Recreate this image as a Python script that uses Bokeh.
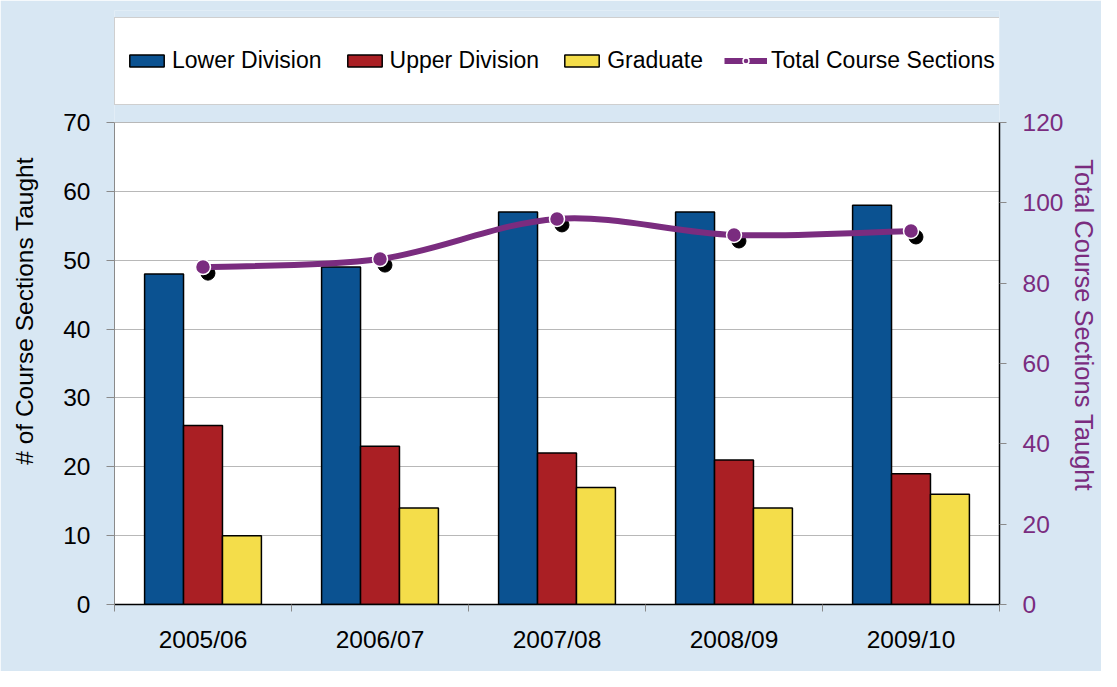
from bokeh.plotting import figure
from bokeh.models import (ColumnDataSource, Range1d, LinearAxis, FixedTicker,
                          Legend, LegendItem, BoxAnnotation)
from bokeh.transform import dodge
from bokeh.embed import file_html
from bokeh.resources import INLINE

# ---------------- data ----------------
years = ["2005/06", "2006/07", "2007/08", "2008/09", "2009/10"]
lower_division = [48, 49, 57, 57, 58]
upper_division = [26, 23, 22, 21, 19]
graduate = [10, 14, 17, 14, 16]
total_sections = [84, 86, 96, 92, 93]
left_ticks = [0, 10, 20, 30, 40, 50, 60, 70]
right_ticks = [0, 20, 40, 60, 80, 100, 120]
left_max = 70
right_max = 120

FONT = "Liberation Sans"
BLUE = "#0B5291"
RED = "#AA1F24"
YELLOW = "#F4DD4A"
PURPLE = "#7A2C7F"
BG = "#D8E7F3"

pos = list(range(len(years)))

# layout (pixels): frame spans from FRAME_TOP to FRAME_BOTTOM, plot area starts at PLOT_TOP
FRAME_TOP, PLOT_TOP, FRAME_BOTTOM = 10, 122, 604
ext = (FRAME_BOTTOM - FRAME_TOP) / (FRAME_BOTTOM - PLOT_TOP)

p = figure(width=1101, height=671, output_backend="svg", toolbar_location=None,
           x_range=Range1d(-0.5, len(years) - 0.5), y_range=Range1d(0, left_max * ext),
           x_axis_location=None, y_axis_location=None,
           min_border_left=114, min_border_right=92, min_border_top=FRAME_TOP,
           min_border_bottom=671 - FRAME_BOTTOM)
p.extra_y_ranges = {"right": Range1d(0, right_max * ext)}
p.border_fill_color = BG
p.background_fill_color = BG
p.outline_line_color = None
p.xgrid.visible = False

# white plot area
p.add_layout(BoxAnnotation(left=-0.5, right=len(years) - 0.5, bottom=0, top=left_max,
                           fill_color="white", fill_alpha=1, line_color=None, level="image"))

src = ColumnDataSource(dict(year=years, lower=lower_division, upper=upper_division,
                            grad=graduate, total=total_sections, pos=pos))

bw = 0.22
r_low = p.vbar(x=dodge("pos", -bw), top="lower", width=bw, source=src,
               fill_color=BLUE, line_color="black", line_width=1.5)
r_up = p.vbar(x="pos", top="upper", width=bw, source=src,
              fill_color=RED, line_color="black", line_width=1.5)
r_gr = p.vbar(x=dodge("pos", bw), top="grad", width=bw, source=src,
              fill_color=YELLOW, line_color="black", line_width=1.5)

# grid
p.ygrid.ticker = FixedTicker(ticks=left_ticks)
p.ygrid.grid_line_color = "#b8b8b8"
p.ygrid.grid_line_width = 1

# smoothed total line (Bezier segments through the data points)
xs = pos
ys = total_sections
n = len(xs)
bz = dict(x0=[], y0=[], x1=[], y1=[], cx0=[], cy0=[], cx1=[], cy1=[])
for i in range(n - 1):
    im = max(i - 1, 0)
    ip = min(i + 2, n - 1)
    bz["x0"].append(xs[i]); bz["y0"].append(ys[i])
    bz["x1"].append(xs[i + 1]); bz["y1"].append(ys[i + 1])
    bz["cx0"].append(xs[i] + (xs[i + 1] - xs[im]) / 6)
    bz["cy0"].append(ys[i] + (ys[i + 1] - ys[im]) / 6)
    bz["cx1"].append(xs[i + 1] - (xs[ip] - xs[i]) / 6)
    bz["cy1"].append(ys[i + 1] - (ys[ip] - ys[i]) / 6)

# shadow of markers
p.scatter(x=dodge("pos", 0.028), y=dodge("total", -1.5),
          source=src, size=14, fill_color="black", line_color="black",
          y_range_name="right")
r_bez = p.bezier(source=ColumnDataSource(bz), x0="x0", y0="y0", x1="x1", y1="y1",
                 cx0="cx0", cy0="cy0", cx1="cx1", cy1="cy1",
                 line_color=PURPLE, line_width=6, y_range_name="right")
r_mark = p.scatter(x="pos", y="total", source=src, size=15, fill_color=PURPLE,
                   line_color="white", line_width=1.5, y_range_name="right")

# axes
NB = "\u00a0"
ly = LinearAxis(ticker=FixedTicker(ticks=left_ticks), bounds=(0, left_max))
ly.axis_line_color = "#8a8a8a"
ly.major_tick_line_color = "#8a8a8a"
ly.major_tick_out = 8
ly.major_tick_in = 0
ly.minor_tick_line_color = None
ly.major_label_text_font = FONT
ly.major_label_text_font_size = "24.5px"
ly.major_label_text_color = "black"
ly.major_label_standoff = 16
ly.axis_label = "# of Course Sections Taught" + NB
ly.axis_label_text_font = FONT
ly.axis_label_text_font_size = "24.5px"
ly.axis_label_text_font_style = "normal"
ly.axis_label_text_color = "black"
ly.axis_label_standoff = 22
p.add_layout(ly, "left")

ry = LinearAxis(y_range_name="right", ticker=FixedTicker(ticks=right_ticks), bounds=(0, right_max))
ry.axis_line_color = "black"
ry.axis_line_width = 1.5
ry.major_tick_line_color = "#8a8a8a"
ry.major_tick_out = 7
ry.major_tick_in = 0
ry.minor_tick_line_color = None
ry.major_label_text_font = FONT
ry.major_label_text_font_size = "24.5px"
ry.major_label_text_color = PURPLE
ry.major_label_standoff = 16
ry.axis_label = NB * 5 + "Total Course Sections Taught"
ry.axis_label_text_font = FONT
ry.axis_label_text_font_size = "25.5px"
ry.axis_label_text_font_style = "normal"
ry.axis_label_text_color = PURPLE
ry.axis_label_standoff = 4
p.add_layout(ry, "right")

# category axis: labels at centers, tick marks at category boundaries
cx = LinearAxis(ticker=FixedTicker(ticks=pos, minor_ticks=[i - 0.5 for i in range(len(years) + 1)]),
                major_label_overrides={i: y for i, y in zip(pos, years)})
cx.axis_line_color = "black"
cx.axis_line_width = 1.5
cx.major_tick_line_color = None
cx.major_tick_out = 0
cx.major_tick_in = 0
cx.minor_tick_line_color = "#8a8a8a"
cx.minor_tick_out = 7
cx.minor_tick_in = 0
cx.major_label_text_font = FONT
cx.major_label_text_font_size = "24.5px"
cx.major_label_text_color = "black"
cx.major_label_standoff = 14
p.add_layout(cx, "below")

legend = Legend(items=[
    LegendItem(label="Lower Division", renderers=[r_low]),
    LegendItem(label="Upper Division", renderers=[r_up]),
    LegendItem(label="Graduate", renderers=[r_gr]),
    LegendItem(label="Total Course Sections", renderers=[r_bez, r_mark]),
], orientation="horizontal", location=(0, FRAME_BOTTOM - 104.5))
legend.padding = 10
legend.margin = 0
legend.spacing = 21
legend.label_standoff = 4
legend.glyph_width = 43
legend.glyph_height = 15
legend.label_height = 66
legend.label_text_font = FONT
legend.label_text_font_size = "23px"
legend.label_text_color = "black"
legend.border_line_color = "#a0a0a0"
legend.border_line_width = 1
legend.background_fill_color = "white"
legend.background_fill_alpha = 1
p.add_layout(legend, "center")

open("out.html", "w").write(file_html(p, INLINE))
